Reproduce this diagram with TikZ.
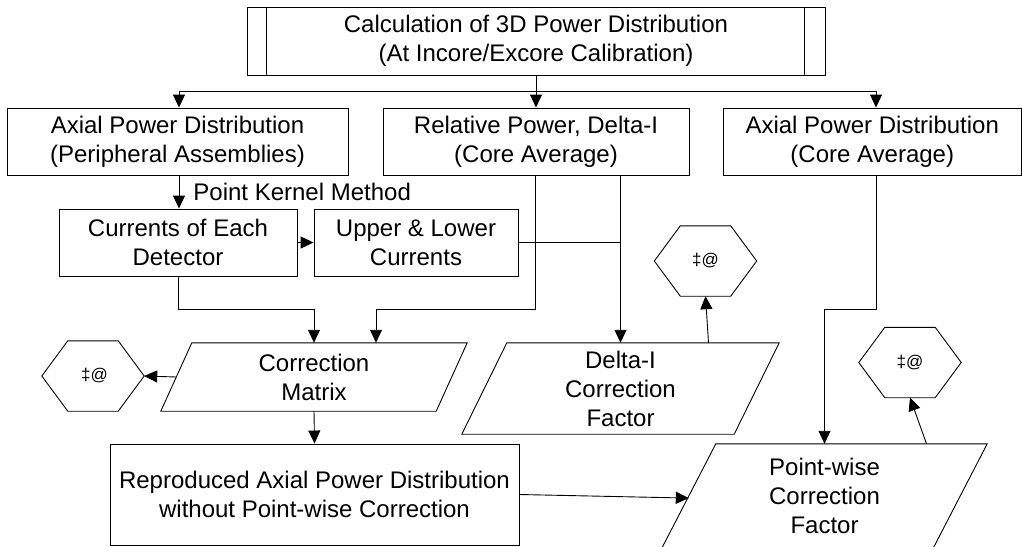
\documentclass[tikz,border=0pt]{standalone}
\usepackage{fontspec}
\setmainfont{Liberation Sans}
\usetikzlibrary{arrows.meta,calc}
\newcommand\parallelo[2]{\draw[shapeline] ($(#1.north west)+(#2,0)$) -- (#1.north east) -- ($(#1.south east)+(-#2,0)$) -- (#1.south west) -- cycle;}
\newcommand\hexa[2]{\draw[shapeline] (#1.west) -- ($(#1.north west)+(#2,0)$) -- ($(#1.north east)+(-#2,0)$) -- (#1.east) -- ($(#1.south east)+(-#2,0)$) -- ($(#1.south west)+(#2,0)$) -- cycle;}
\begin{document}
\begin{tikzpicture}[x=1pt,y=-1pt,
  every node/.style={font=\fontsize{24}{29}\selectfont, align=center, inner sep=0pt},
  shapeline/.style={line width=0.9pt, black},
  box/.style={draw, line width=0.9pt},
  pgtext/.style={},
  hexnode/.style={minimum width=102pt, minimum height=70pt, font=\fontsize{17}{20}\selectfont},
  arr/.style={line width=0.9pt, -{Triangle[length=13pt,width=12pt]}},
  conn/.style={line width=0.9pt}]
\useasboundingbox (0,0) rectangle (1022,546);
\clip (0,0) rectangle (1022,546);

% top box
\node[box, minimum width=578pt, minimum height=68pt] (top) at (536,41)
  {Calculation of 3D Power Distribution\\(At Incore/Excore Calibration)};
\draw[shapeline] ($(top.north west)+(20,0)$) -- ($(top.south west)+(20,0)$);
\draw[shapeline] ($(top.north east)+(-21,0)$) -- ($(top.south east)+(-21,0)$);

% second row
\node[box, minimum width=341pt, minimum height=67pt] (b1) at (177.5,141.5)
  {Axial Power Distribution\\(Peripheral Assemblies)};
\node[box, minimum width=306pt, minimum height=67pt] (b2) at (536,141.5)
  {Relative Power, Delta-I\\(Core Average)};
\node[box, minimum width=298.5pt, minimum height=67pt] (b3) at (872.25,141.5)
  {Axial Power Distribution\\(Core Average)};

% third row
\node[box, minimum width=238pt, minimum height=67pt] (b4) at (178,242.5)
  {Currents of Each\\Detector};
\node[box, minimum width=204pt, minimum height=67pt] (b5) at (416,242.5)
  {Upper \& Lower\\Currents};

% parallelograms
\node[pgtext, minimum width=306pt, minimum height=68pt] (cm) at (314,377) {Correction\\Matrix};
\parallelo{cm}{31}
\node[pgtext, minimum width=317pt, minimum height=91pt] (di) at (620.5,388.5) {Delta-I\\Correction\\Factor};
\parallelo{di}{45}
\node[pgtext, minimum width=325pt, minimum height=104pt] (pw) at (824.5,496) {Point-wise\\Correction\\Factor};
\parallelo{pw}{54}

% bottom box
\node[box, minimum width=409pt, minimum height=101pt] (b6) at (314.5,494.5)
  {Reproduced Axial Power Distribution\\without Point-wise Correction};

% hexagons
\node[hexnode] (h1) at (93,376) {\,‡@};
\hexa{h1}{26}
\node[hexnode] (h2) at (705.5,261) {‡@};
\hexa{h2}{26}
\node[hexnode] (h3) at (910,362.5) {‡@};
\hexa{h3}{26}

% connectors
\draw[arr] (top.south) -- (b2.north);
\coordinate (split) at ($(top.south)!0.5!(b2.north)$);
\draw[arr] (split) -| ([xshift=1.5pt]b1.north);
\draw[arr] (split) -| ([xshift=3.75pt]b3.north);

\draw[arr] ([xshift=1.5pt]b1.south) -- ([xshift=1pt]b4.north)
  node[midway, anchor=west, xshift=14pt] (pkm) {Point Kernel Method};
\draw[arr] (b4.east) -- (b5.west);
\draw[conn] (b5.east) -- (b5.east -| di.north);
\draw[arr] (b2.south -| di.north) -- (di.north);

\coordinate (cmin2) at ([xshift=62pt]cm.north);
\draw[arr] ([xshift=-1pt]b2.south) |- ($(cmin2)+(0,-33)$) -- (cmin2);
\draw[arr] (b4.south) |- ($(cm.north)+(0,-33)$) -- (cm.north);
\draw[arr] ([xshift=3.75pt]b3.south) |- ($(pw.north)+(0,-134)$) -- (pw.north);

\draw[arr] ([xshift=15.5pt]cm.west) -- (h1.east);
\draw[arr] (cm.south) -- (b6.north);
\draw[arr] (b6.east) -- ($(pw.north west)!0.52!(pw.south west)+(27,0)$);
\draw[arr] ([xshift=88pt]di.north) -- (h2.south);
\draw[arr] ([xshift=102pt]pw.north) -- (h3.south);
\end{tikzpicture}
\end{document}
